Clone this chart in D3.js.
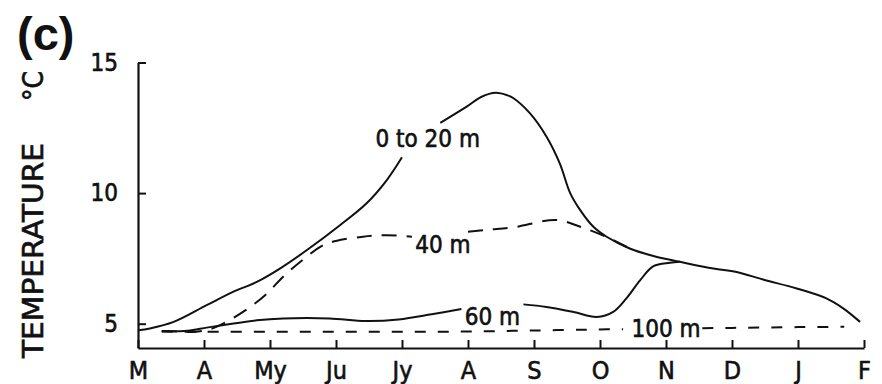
<!DOCTYPE html>
<html>
<head>
<meta charset="utf-8">
<script src="https://cdn.jsdelivr.net/npm/d3@7"></script>
<style>
  html, body { margin: 0; padding: 0; background: #fff; }
  svg { display: block; }
  .lbl { font-family: "DejaVu Sans Condensed", "DejaVu Sans", sans-serif; fill: #111; stroke: #111; stroke-width: 0.6px; }
</style>
</head>
<body>
<svg id="chart" width="882" height="384"></svg>
<script>
// ---- data (month index 0 = M ... 11 = F, temperature °C) ----
const months = ["M", "A", "My", "Ju", "Jy", "A", "S", "O", "N", "D", "J", "F"];
const yTicks = [5, 10, 15];

// null marks a break in the line (where a label sits)
const surface0to20 = [
  [0, 4.75], [0.18, 4.82], [0.54, 5.07], [1.04, 5.71], [1.44, 6.22], [1.8, 6.6],
  [2.15, 7.11], [2.56, 7.82], [3.06, 8.77], [3.46, 9.6], [3.77, 10.5], [4.0, 11.37], null,
  [4.58, 12.69], [4.98, 13.31], [5.2, 13.68], [5.42, 13.84], [5.6, 13.74],
  [5.69, 13.63], [5.94, 13.05], [6.19, 12.16], [6.39, 11.14], [6.55, 9.99],
  [6.7, 9.35], [6.9, 8.71], [7.1, 8.33], [7.45, 7.88], [7.81, 7.59], [8.21, 7.37],
  [8.72, 7.11], [9.07, 6.98], [9.47, 6.69], [9.98, 6.35], [10.43, 5.97],
  [10.69, 5.58], [10.94, 5.07]
];
const depth40 = [
  [0.36, 4.72], [0.6, 4.7], [0.8, 4.68], [1.0, 4.74], [1.15, 4.84], [1.29, 5.0],
  [1.62, 5.5], [1.93, 6.1], [2.2, 6.8], [2.5, 7.45], [2.8, 8.0], [3.0, 8.17],
  [3.41, 8.33], [3.77, 8.39], [4.15, 8.33], null, [5.0, 8.52], [5.3, 8.6], [5.69, 8.69],
  [6.34, 8.97], [6.7, 8.71], [7.1, 8.32], [7.45, 7.88]
];
const depth60 = [
  [0.36, 4.71], [0.75, 4.73], [1.04, 4.85], [1.3, 4.95], [1.8, 5.13], [2.2, 5.2],
  [2.9, 5.2], [3.45, 5.1], [3.95, 5.16], [4.45, 5.36], [4.9, 5.56], null,
  [5.84, 5.74], [6.19, 5.64], [6.6, 5.45], [6.95, 5.26], [7.2, 5.45], [7.4, 5.97],
  [7.61, 6.67], [7.81, 7.2], [8.06, 7.33], [8.21, 7.37]
];
const depth100 = [
  [0.36, 4.7], [1.0, 4.69], [2.0, 4.69], [3.0, 4.69], [4.0, 4.69], [5.0, 4.7],
  [6.0, 4.74], [7.0, 4.78], [7.35, 4.79], null, [8.55, 4.83], [9.0, 4.84],
  [10.0, 4.87], [10.7, 4.88]
];

// ---- layout ----
const svg = d3.select("#chart");
const x = d3.scaleLinear().domain([0, 11]).range([138, 864]);
const y = d3.scaleLinear().domain([4.07, 15]).range([348, 62.5]);

const axisFont = '"DejaVu Sans Condensed", "DejaVu Sans", sans-serif';

// y axis
const gy = svg.append("g").attr("transform", `translate(${x(0)},0)`)
  .call(d3.axisLeft(y).tickValues(yTicks).tickFormat(d3.format("d"))
    .tickSizeInner(-8).tickSizeOuter(0).tickPadding(20));
gy.select(".domain").attr("stroke", "#111").attr("stroke-width", 2.2);
gy.selectAll(".tick line").attr("stroke", "#111").attr("stroke-width", 2);
gy.selectAll(".tick text").attr("font-family", axisFont).attr("font-size", 24)
  .attr("fill", "#111").attr("stroke", "#111").attr("stroke-width", 0.6);

// x axis
const gx = svg.append("g").attr("transform", `translate(0,${y(4.07)})`)
  .call(d3.axisBottom(x).tickValues(d3.range(months.length)).tickFormat(i => months[i])
    .tickSizeInner(-8).tickSizeOuter(0).tickPadding(13));
gx.select(".domain").attr("stroke", "#111").attr("stroke-width", 2.2);
gx.selectAll(".tick line").attr("stroke", "#111").attr("stroke-width", 2);
gx.selectAll(".tick text").attr("font-family", axisFont).attr("font-size", 25)
  .attr("fill", "#111").attr("stroke", "#111").attr("stroke-width", 0.6);

// curves
const line = d3.line()
  .defined(d => d !== null)
  .x(d => x(d[0])).y(d => y(d[1]))
  .curve(d3.curveCatmullRom.alpha(0.5));

const series = [
  { data: surface0to20, dash: null },
  { data: depth40, dash: "15,10" },
  { data: depth60, dash: null },
  { data: depth100, dash: "11,12" }
];
svg.append("g").selectAll("path").data(series).join("path")
  .attr("d", s => line(s.data))
  .attr("fill", "none").attr("stroke", "#111").attr("stroke-width", 2)
  .attr("stroke-linejoin", "round")
  .attr("stroke-dasharray", s => s.dash);

// curve labels
const labels = [
  { t: "0 to 20 m", m: 4.39, v: 12.1 },
  { t: "40 m", m: 4.62, v: 8.02 },
  { t: "60 m", m: 5.37, v: 5.3 },
  { t: "100 m", m: 8.0, v: 4.84 }
];
svg.append("g").selectAll("text").data(labels).join("text")
  .attr("class", "lbl")
  .attr("x", d => x(d.m)).attr("y", d => y(d.v))
  .attr("text-anchor", "middle").attr("dy", "0.36em")
  .attr("font-size", 24)
  .text(d => d.t);

// y axis title (rotated)
svg.append("text").attr("class", "lbl")
  .attr("transform", "translate(43,358) rotate(-90)")
  .attr("font-size", 28).attr("textLength", 215).attr("lengthAdjust", "spacingAndGlyphs")
  .text("TEMPERATURE");
svg.append("text").attr("class", "lbl")
  .attr("transform", "translate(43,101) rotate(-90)")
  .attr("font-size", 28)
  .text("°C");

// panel letter
svg.append("text")
  .attr("x", 17).attr("y", 50)
  .attr("font-family", '"Liberation Sans", Arial, sans-serif')
  .attr("font-weight", "bold").attr("font-size", 47).attr("fill", "#111")
  .text("(c)");
</script>
</body>
</html>
